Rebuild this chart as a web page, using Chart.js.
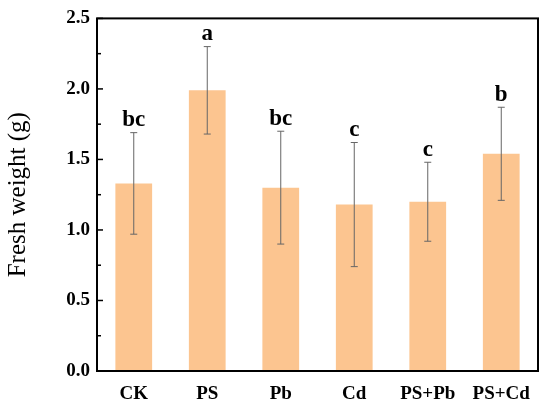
<!DOCTYPE html>
<html lang="en">
<head>
  <meta charset="UTF-8" />
  <title>Fresh weight</title>
  <script src="https://cdn.jsdelivr.net/npm/chart.js"></script>
  <style>
    html, body { margin: 0; background: #fff; }
    #wrap { width: 550px; height: 412px; }
  </style>
</head>
<body>
<div id="wrap"><canvas id="chart"></canvas></div>
<script>
  const categories = ['CK', 'PS', 'Pb', 'Cd', 'PS+Pb', 'PS+Cd'];
  const freshWeight = [1.33, 1.99, 1.30, 1.18, 1.20, 1.54];
  const errors = [0.36, 0.31, 0.40, 0.44, 0.28, 0.33];
  const letters = ['bc', 'a', 'bc', 'c', 'c', 'b'];
  const majorTicks = [0, 0.5, 1.0, 1.5, 2.0, 2.5];
  const minorTicks = [0.25, 0.75, 1.25, 1.75, 2.25];

  const serif = "'Liberation Serif', 'DejaVu Serif', serif";

  // error bars, letters, inward ticks and the box frame
  const extras = {
    id: 'extras',
    afterDatasetsDraw(chart) {
      const ctx = chart.ctx;
      const x = chart.scales.x, y = chart.scales.y;
      const area = chart.chartArea;
      ctx.save();
      ctx.strokeStyle = '#666';
      ctx.lineWidth = 1;
      freshWeight.forEach((v, i) => {
        const cx = x.getPixelForValue(i);
        const top = y.getPixelForValue(v + errors[i]);
        const bot = y.getPixelForValue(v - errors[i]);
        ctx.beginPath();
        ctx.moveTo(cx, top); ctx.lineTo(cx, bot);
        ctx.moveTo(cx - 3.5, top); ctx.lineTo(cx + 3.5, top);
        ctx.moveTo(cx - 3.5, bot); ctx.lineTo(cx + 3.5, bot);
        ctx.stroke();
        ctx.fillStyle = '#000';
        ctx.font = 'bold 23px ' + serif;
        ctx.textAlign = 'center';
        ctx.textBaseline = 'bottom';
        ctx.fillText(letters[i], cx, top - 1);
      });
      ctx.strokeStyle = '#000';
      ctx.lineWidth = 1.5;
      majorTicks.forEach(t => {
        const py = y.getPixelForValue(t);
        ctx.beginPath(); ctx.moveTo(area.left, py); ctx.lineTo(area.left + 6, py); ctx.stroke();
      });
      minorTicks.forEach(t => {
        const py = y.getPixelForValue(t);
        ctx.beginPath(); ctx.moveTo(area.left, py); ctx.lineTo(area.left + 4, py); ctx.stroke();
      });
      ctx.lineWidth = 2;
      ctx.strokeRect(area.left, area.top, area.right - area.left, area.bottom - area.top);
      ctx.restore();
    }
  };

  new Chart(document.getElementById('chart'), {
    type: 'bar',
    data: {
      labels: categories,
      datasets: [{
        data: freshWeight,
        backgroundColor: '#fcc590',
        borderWidth: 0,
        barPercentage: 0.5,
        categoryPercentage: 1.0
      }]
    },
    options: {
      responsive: true,
      maintainAspectRatio: false,
      animation: false,
      layout: { padding: { top: 16, right: 12, left: 0, bottom: 0 } },
      plugins: { legend: { display: false }, tooltip: { enabled: false } },
      scales: {
        x: {
          grid: { display: false, drawTicks: false },
          border: { display: false },
          ticks: { color: '#000', padding: 12, font: { family: serif, size: 19, weight: 'bold' } },
          afterFit(scale) { scale.height = 41; }
        },
        y: {
          min: 0, max: 2.5,
          grid: { display: false, drawTicks: false },
          border: { display: false },
          afterBuildTicks(scale) { scale.ticks = majorTicks.map(v => ({ value: v })); },
          ticks: {
            color: '#000', padding: 7,
            font: { family: serif, size: 19, weight: 'bold' },
            callback: v => v.toFixed(1)
          },
          title: {
            display: true, text: 'Fresh weight (g)', color: '#000',
            font: { family: serif, size: 25 },
            padding: { top: 3, bottom: 0 }
          },
          afterFit(scale) { scale.width = 97; }
        }
      }
    },
    plugins: [extras]
  });
</script>
</body>
</html>
